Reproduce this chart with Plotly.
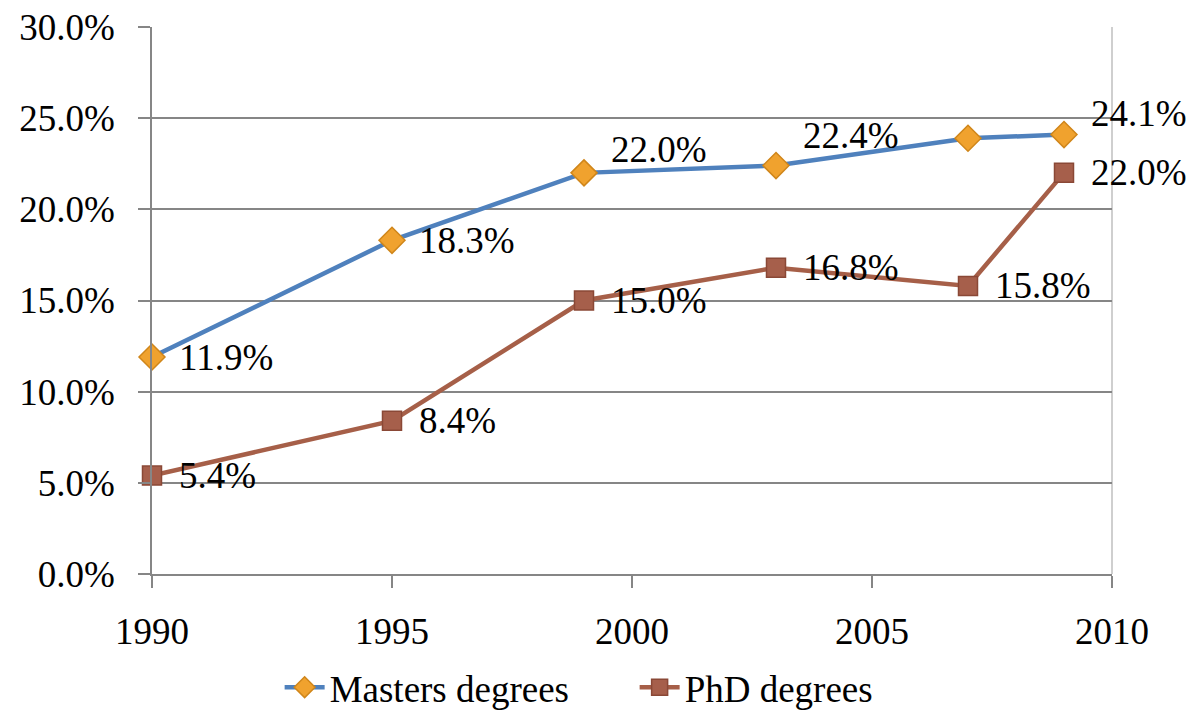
import plotly.graph_objects as go

years = [1990, 1995, 1999, 2003, 2007, 2009]
masters = [11.9, 18.3, 22.0, 22.4, 23.9, 24.1]
masters_labels = ["11.9%", "18.3%", "22.0%", "22.4%", "", "24.1%"]
phd = [5.4, 8.4, 15.0, 16.8, 15.8, 22.0]
phd_labels = ["5.4%", "8.4%", "15.0%", "16.8%", "15.8%", "22.0%"]
y_ticks = [0, 5, 10, 15, 20, 25, 30]
y_tick_text = ["0.0%", "5.0%", "10.0%", "15.0%", "20.0%", "25.0%", "30.0%"]
x_ticks = [1990, 1995, 2000, 2005, 2010]

# label placement styles (pixel shifts), kept apart from the data
masters_label_raise = [0, 0, 23, 30, 0, 21]
phd_label_raise = [0, 0, 0, 0, 0, 0]
LABEL_GAP = 25

FONT = "Liberation Serif"
FS = 37
fig = go.Figure()
fig.add_trace(go.Scatter(
    x=years, y=masters, name="Masters degrees", mode="lines+markers",
    line=dict(color="#4F81BD", width=4.5),
    marker=dict(symbol="diamond", size=20, color="#F0A22E", line=dict(color="#D0861A", width=1.5)),
    cliponaxis=False,
))
fig.add_trace(go.Scatter(
    x=years, y=phd, name="PhD degrees", mode="lines+markers",
    line=dict(color="#A65F48", width=4.5),
    marker=dict(symbol="square", size=19, color="#A65F4B", line=dict(color="#8A4836", width=1.5)),
    cliponaxis=False,
))
for xs, ys, labels, raises in [(years, masters, masters_labels, masters_label_raise),
                               (years, phd, phd_labels, phd_label_raise)]:
    for xv, yv, lab, dy in zip(xs, ys, labels, raises):
        if not lab:
            continue
        fig.add_annotation(x=xv, y=yv, text=lab, showarrow=False,
                           xanchor="left", yanchor="middle",
                           xshift=LABEL_GAP, yshift=dy,
                           font=dict(family=FONT, size=FS, color="black"))

fig.add_shape(type="line", xref="paper", yref="paper", x0=1, x1=1, y0=0, y1=1,
              line=dict(color="#BFBFBF", width=1.5), layer="below")
fig.update_layout(
    width=1181, height=705,
    margin=dict(l=144, r=77, t=19, b=139, autoexpand=False),
    paper_bgcolor="white", plot_bgcolor="white",
    font=dict(family=FONT, size=FS, color="black"),
    showlegend=True,
    legend=dict(orientation="h", xref="container", yref="container",
                x=0.230, xanchor="left", y=0.036, yanchor="middle",
                font=dict(family=FONT, size=FS), itemwidth=40, tracegroupgap=0,
                entrywidth=300, entrywidthmode="pixels"),
    xaxis=dict(range=[1990, 2010], tickvals=x_ticks, showgrid=False, zeroline=False,
               showline=True, linecolor="#868686", linewidth=1.5,
               ticks="outside", ticklen=12, tickcolor="#868686", tickwidth=1.5,
               ticklabelstandoff=12,
               automargin=False, ticklabeloverflow="allow"),
    yaxis=dict(range=[0, 30], tickvals=y_ticks, ticktext=y_tick_text,
               showgrid=True, gridcolor="#868686", gridwidth=1.5, zeroline=False,
               showline=True, linecolor="#868686", linewidth=1.5,
               ticks="outside", ticklen=12, tickcolor="#868686", tickwidth=1.5,
               ticklabelstandoff=16,
               automargin=False, ticklabeloverflow="allow"),
)
fig.write_html("out.html")
